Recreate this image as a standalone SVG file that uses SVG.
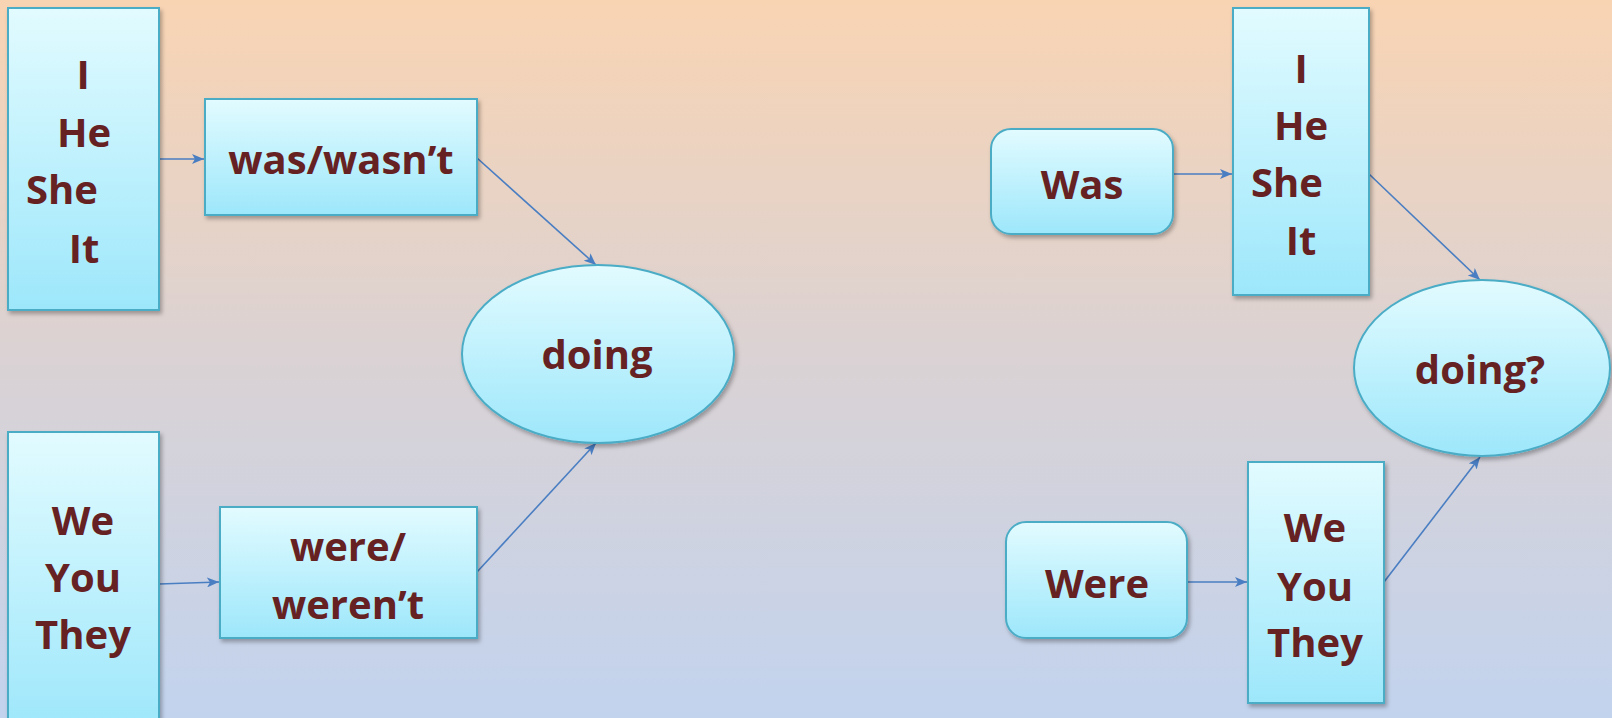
<svg xmlns="http://www.w3.org/2000/svg" width="1612" height="718" viewBox="0 0 1612 718">
<defs>
<linearGradient id="bg" x1="0" y1="0" x2="0" y2="1">
<stop offset="0" stop-color="#F9D4B3"/>
<stop offset="0.5" stop-color="#DAD2D4"/>
<stop offset="1" stop-color="#C2D3EE"/>
</linearGradient>
<linearGradient id="fill" x1="0" y1="0" x2="0" y2="1">
<stop offset="0" stop-color="#E2FBFF"/>
<stop offset="1" stop-color="#9DE7FB"/>
</linearGradient>
<filter id="sh" x="-10%" y="-10%" width="130%" height="130%">
<feDropShadow dx="2" dy="3" stdDeviation="2" flood-color="#000" flood-opacity="0.3"/>
</filter>
<marker id="ah" viewBox="0 0 12 10" refX="12" refY="5" markerWidth="12" markerHeight="10" markerUnits="userSpaceOnUse" orient="auto">
<path d="M0,0 L12,5 L0,10 L3,5 Z" fill="#4A7EC2"/>
</marker>
</defs>
<style>
.box{fill:url(#fill);stroke:#4BACC6;stroke-width:2;filter:url(#sh)}
.t{font-family:"Open Sans","Liberation Sans",sans-serif;font-weight:bold;font-size:40px;fill:#662222;text-anchor:middle}
.c{stroke:#4A7EC2;stroke-width:1.6;fill:none;marker-end:url(#ah)}
</style>
<rect x="0" y="0" width="1612" height="718" fill="url(#bg)"/>
<g id="connectors">
<line class="c" x1="159" y1="159" x2="204" y2="159"/>
<line class="c" x1="477" y1="158" x2="596" y2="265"/>
<line class="c" x1="159" y1="584" x2="219" y2="582"/>
<line class="c" x1="477" y1="572" x2="596" y2="443"/>
<line class="c" x1="1173" y1="174" x2="1232" y2="174"/>
<line class="c" x1="1369" y1="174" x2="1480" y2="280"/>
<line class="c" x1="1187" y1="582" x2="1247" y2="582"/>
<line class="c" x1="1384" y1="582" x2="1480" y2="457"/>
</g>
<g id="n-ihesheit-left">
<rect class="box" x="8" y="8" width="151" height="302"/>
<text class="t" x="83" y="89">I</text>
<text class="t" x="84" y="147">He</text>
<text class="t" x="62" y="204">She</text>
<text class="t" x="84" y="263">It</text>
</g>
<g id="n-was-wasnt">
<rect class="box" x="205" y="99" width="272" height="116"/>
<text class="t" x="341" y="174">was/wasn’t</text>
</g>
<g id="n-weyouthey-left">
<rect class="box" x="8" y="432" width="151" height="300"/>
<text class="t" x="83" y="535">We</text>
<text class="t" x="83" y="592">You</text>
<text class="t" x="83" y="649">They</text>
</g>
<g id="n-were-werent">
<rect class="box" x="220" y="507" width="257" height="131"/>
<text class="t" x="348" y="561">were/</text>
<text class="t" x="348" y="619">weren’t</text>
</g>
<g id="n-doing">
<ellipse class="box" cx="598" cy="354" rx="136" ry="89"/>
<text class="t" x="597" y="369">doing</text>
</g>
<g id="n-was">
<rect class="box" x="991" y="129" width="182" height="105" rx="20" ry="20"/>
<text class="t" x="1082" y="199">Was</text>
</g>
<g id="n-ihesheit-right">
<rect class="box" x="1233" y="8" width="136" height="287"/>
<text class="t" x="1301" y="83">I</text>
<text class="t" x="1301" y="140">He</text>
<text class="t" x="1287" y="197">She</text>
<text class="t" x="1301" y="255">It</text>
</g>
<g id="n-were">
<rect class="box" x="1006" y="522" width="181" height="116" rx="20" ry="20"/>
<text class="t" x="1097" y="598">Were</text>
</g>
<g id="n-weyouthey-right">
<rect class="box" x="1248" y="462" width="136" height="241"/>
<text class="t" x="1315" y="542">We</text>
<text class="t" x="1315" y="601">You</text>
<text class="t" x="1315" y="657">They</text>
</g>
<g id="n-doing-q">
<ellipse class="box" cx="1482" cy="368" rx="128" ry="88"/>
<text class="t" x="1480" y="384">doing?</text>
</g>
</svg>
